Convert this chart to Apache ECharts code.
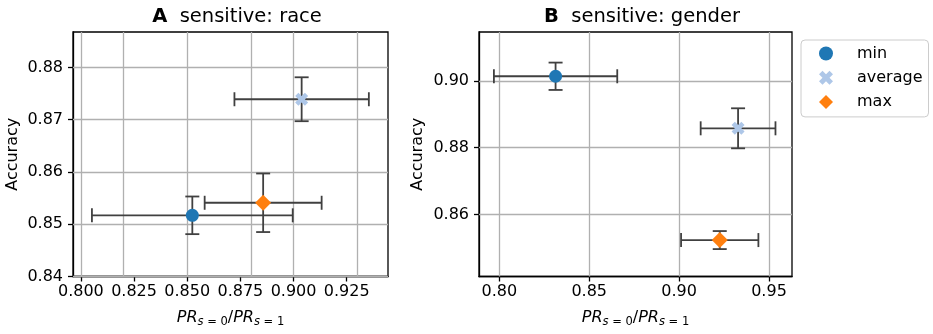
<!DOCTYPE html>
<html>
<head>
<meta charset="utf-8">
<script src="https://cdn.jsdelivr.net/npm/echarts@6/dist/echarts.min.js"></script>
<style>
html,body{margin:0;padding:0;background:#fff;}
#chart{width:933px;height:334px;}
</style>
</head>
<body>
<div id="chart"></div>
<script>
// ---- data ----
const seriesNames = ['min', 'average', 'max'];
const raceX = [0.8524, 0.9038, 0.8857];
const raceY = [0.8517, 0.8739, 0.8541];
const raceXErr = [0.0472, 0.0316, 0.0275];
const raceYErr = [0.0036, 0.0042, 0.0056];
const genderX = [0.8313, 0.9328, 0.9226];
const genderY = [0.9014, 0.8858, 0.8523];
const genderXErr = [0.0343, 0.0208, 0.0215];
const genderYErr = [0.0041, 0.0060, 0.0027];
const raceXTicks = [0.800, 0.825, 0.850, 0.875, 0.900, 0.925];
const raceYTicks = [0.84, 0.85, 0.86, 0.87, 0.88];
const genderXTicks = [0.80, 0.85, 0.90, 0.95];
const genderYTicks = [0.86, 0.88, 0.90];
const titlesA = ['A', 'sensitive: race'];
const titlesB = ['B', 'sensitive: gender'];

// ---- styles ----
const FONT = 'DejaVu Sans';
const colors = ['#1f77b4', '#aec7e8', '#ff7f0e'];
const XPATH = 'path://M0.25,0 L0.5,0.25 L0.75,0 L1,0.25 L0.75,0.5 L1,0.75 L0.75,1 L0.5,0.75 L0.25,1 L0,0.75 L0.25,0.5 L0,0.25 Z';
const symbols = ['circle', XPATH, 'diamond'];
const symbolSizes = [13, 13, 16];

const panels = [
  {x: raceX, y: raceY, ex: raceXErr, ey: raceYErr, xt: raceXTicks, yt: raceYTicks, xd: 3, yd: 2,
   grid: {left: 73, top: 32, width: 315, height: 244.5}, xr: [0.7963, 0.9444], yr: [0.84, 0.88676], nameGap: 52},
  {x: genderX, y: genderY, ex: genderXErr, ey: genderYErr, xt: genderXTicks, yt: genderYTicks, xd: 2, yd: 2,
   grid: {left: 479, top: 32, width: 313, height: 244.5}, xr: [0.78871, 0.96279], yr: [0.84138, 0.91467], nameGap: 53}
];

function axisCommon(ticks, digits, margin) {
  return {
    axisLine: {show: true, onZero: false, lineStyle: {color: '#000', width: 1.3}},
    axisTick: {show: true, inside: false, length: 5, customValues: ticks, lineStyle: {color: '#000', width: 1.3}},
    axisLabel: {customValues: ticks, formatter: v => Number(v).toFixed(digits), fontSize: 16, fontFamily: FONT, color: '#000', margin: margin},
    splitLine: {show: false}
  };
}

const grids = [], xAxes = [], yAxes = [], series = [];
panels.forEach((p, k) => {
  grids.push(Object.assign({show: true, borderColor: '#000', borderWidth: 1.3, containLabel: false}, p.grid));
  xAxes.push(Object.assign({
    type: 'value', gridIndex: k, min: p.xr[0], max: p.xr[1],
    name: '{i|PR}{si|s}{su| = 0}{n|/}{i|PR}{si|s}{su| = 1}',
    nameLocation: 'middle', nameGap: 30,
    nameTextStyle: {
      rich: {
        i: {fontStyle: 'italic', fontSize: 16, fontFamily: FONT, color: '#000', lineHeight: 22, verticalAlign: 'middle'},
        n: {fontSize: 16, fontFamily: FONT, color: '#000', lineHeight: 22, verticalAlign: 'middle'},
        si: {fontStyle: 'italic', fontSize: 11.5, fontFamily: FONT, color: '#000', verticalAlign: 'bottom'},
        su: {fontSize: 11.5, fontFamily: FONT, color: '#000', verticalAlign: 'bottom'}
      }
    }
  }, axisCommon(p.xt, p.xd, 7)));
  yAxes.push(Object.assign({
    type: 'value', gridIndex: k, min: p.yr[0], max: p.yr[1],
    name: 'Accuracy', nameLocation: 'middle', nameGap: p.nameGap,
    nameTextStyle: {fontSize: 16, fontFamily: FONT, color: '#000'}
  }, axisCommon(p.yt, p.yd, 10)));

  // grid lines
  const ml = [];
  p.xt.forEach(v => ml.push({xAxis: v}));
  p.yt.forEach(v => ml.push({yAxis: v}));
  series.push({
    type: 'line', xAxisIndex: k, yAxisIndex: k, data: [], silent: true, z: 1,
    markLine: {z: 1, silent: true, animation: false, symbol: ['none', 'none'], label: {show: false},
      lineStyle: {color: '#b0b0b0', width: 1.3, type: 'solid'}, emphasis: {disabled: true}, data: ml}
  });

  // error bars
  const errData = p.x.map((v, i) => [v, p.y[i], p.ex[i], p.ey[i]]);
  series.push({
    type: 'custom', xAxisIndex: k, yAxisIndex: k, z: 3, silent: true,
    encode: {x: 0, y: 1},
    data: errData,
    renderItem: function (params, api) {
      const x = api.value(0), y = api.value(1), ex = api.value(2), ey = api.value(3);
      const l = api.coord([x - ex, y]), r = api.coord([x + ex, y]);
      const t = api.coord([x, y + ey]), b = api.coord([x, y - ey]);
      const c = 7;
      const st = {stroke: '#404040', lineWidth: 1.8, fill: null};
      const ln = (x1, y1, x2, y2) => ({type: 'line', shape: {x1, y1, x2, y2}, style: st});
      return {type: 'group', children: [
        ln(l[0], l[1], r[0], r[1]),
        ln(l[0], l[1] - c, l[0], l[1] + c),
        ln(r[0], r[1] - c, r[0], r[1] + c),
        ln(t[0], t[1], b[0], b[1]),
        ln(t[0] - c, t[1], t[0] + c, t[1]),
        ln(b[0] - c, b[1], b[0] + c, b[1])
      ]};
    }
  });

  // markers
  seriesNames.forEach((nm, i) => {
    series.push({
      type: 'scatter', name: nm, xAxisIndex: k, yAxisIndex: k, z: 4,
      symbol: symbols[i], symbolSize: symbolSizes[i],
      itemStyle: {color: colors[i], opacity: 1},
      data: [[p.x[i], p.y[i]]]
    });
  });
});

const chart = echarts.init(document.getElementById('chart'), null, {renderer: 'canvas'});
chart.setOption({
  animation: false,
  backgroundColor: '#fff',
  title: [
    {text: '{b|' + titlesA[0] + '}  ' + titlesA[1], left: 237, top: 7, textAlign: 'center', padding: 0,
     textStyle: {fontSize: 19.5, fontWeight: 'normal', fontFamily: FONT, color: '#000',
       rich: {b: {fontWeight: 'bold', fontSize: 19.5, fontFamily: FONT, color: '#000'}}}},
    {text: '{b|' + titlesB[0] + '}  ' + titlesB[1], left: 642, top: 7, textAlign: 'center', padding: 0,
     textStyle: {fontSize: 19.5, fontWeight: 'normal', fontFamily: FONT, color: '#000',
       rich: {b: {fontWeight: 'bold', fontSize: 19.5, fontFamily: FONT, color: '#000'}}}}
  ],
  legend: {
    data: seriesNames, orient: 'vertical', left: 801, top: 40,
    padding: [4.5, 6, 6, 18], itemWidth: 14, itemHeight: 14, itemGap: 6.2,
    borderColor: '#cccccc', borderWidth: 1, borderRadius: 4, backgroundColor: '#fff',
    textStyle: {fontSize: 16, fontFamily: FONT, color: '#000', lineHeight: 18, padding: [0, 0, 0, 19]},
    selectedMode: false
  },
  grid: grids,
  xAxis: xAxes,
  yAxis: yAxes,
  series: series
});
</script>
</body>
</html>
